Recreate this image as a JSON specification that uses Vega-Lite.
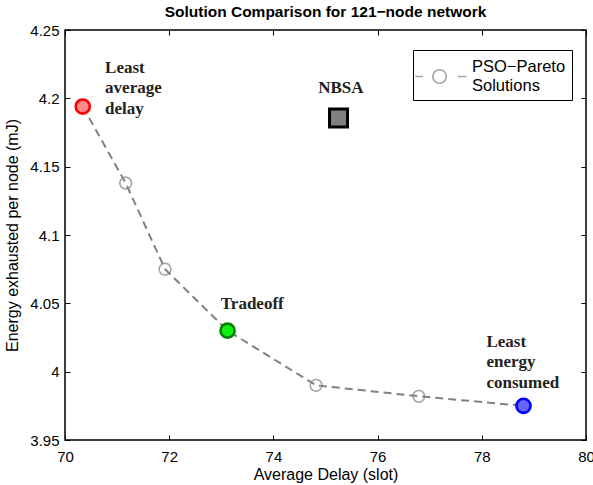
{
  "$schema": "https://vega.github.io/schema/vega-lite/v6.json",
  "width": 521,
  "height": 410,
  "autosize": {"type": "none"},
  "padding": {"left": 65, "top": 30, "right": 7, "bottom": 45},
  "background": "white",
  "title": {
    "text": "Solution Comparison for 121−node network",
    "font": "Liberation Sans",
    "fontSize": 15.5,
    "fontWeight": "bold",
    "color": "black",
    "anchor": "middle",
    "baseline": "bottom",
    "offset": 0,
    "dy": 12
  },
  "config": {
    "view": {"stroke": "black", "strokeWidth": 1.5},
    "axis": {
      "domain": false,
      "offset": -5,
      "tickColor": "black",
      "tickWidth": 1,
      "tickSize": 5,
      "grid": false,
      "labelFont": "Liberation Sans",
      "labelFontSize": 15,
      "labelColor": "black",
      "titleFont": "Liberation Sans",
      "titleFontSize": 16,
      "titleFontWeight": "normal",
      "titleColor": "black"
    }
  },
  "datasets": {
    "pareto": [
      {"delay": 70.34, "energy": 4.194, "kind": "least delay"},
      {"delay": 71.165, "energy": 4.138, "kind": "pso"},
      {"delay": 71.92, "energy": 4.075, "kind": "pso"},
      {"delay": 73.12, "energy": 4.03, "kind": "tradeoff"},
      {"delay": 74.82, "energy": 3.99, "kind": "pso"},
      {"delay": 76.79, "energy": 3.982, "kind": "pso"},
      {"delay": 78.8, "energy": 3.975, "kind": "least energy"}
    ],
    "nbsa": [
      {"delay": 75.25, "energy": 4.1856, "kind": "NBSA"}
    ],
    "notes": [
      {"delay": 70.77, "energy": 4.2222, "text": ["Least", "average", "delay"]},
      {"delay": 74.86, "energy": 4.2076, "text": ["NBSA"]},
      {"delay": 72.99, "energy": 4.0495, "text": ["Tradeoff"]},
      {"delay": 78.09, "energy": 4.0219, "text": ["Least", "energy", "consumed"]}
    ]
  },
  "layer": [
    {
      "data": {"name": "pareto"},
      "mark": {"type": "line", "color": "#808080", "strokeWidth": 2, "strokeDash": [8, 5]},
      "encoding": {
        "x": {
          "field": "delay", "type": "quantitative",
          "scale": {"domain": [70, 80], "nice": false, "zero": false},
          "axis": {"orient": "bottom", "values": [70, 72, 74, 76, 78, 80], "labelPadding": 9, "title": "Average Delay (slot)", "titlePadding": 2, "labelFlush": false}
        },
        "y": {
          "field": "energy", "type": "quantitative",
          "scale": {"domain": [3.95, 4.25], "nice": false, "zero": false},
          "axis": {"orient": "left", "values": [3.95, 4, 4.05, 4.1, 4.15, 4.2, 4.25], "format": "~g", "labelPadding": 6, "title": "Energy exhausted per node (mJ)", "titlePadding": 9, "labelFlush": false}
        }
      }
    },
    {
      "data": {"name": "pareto"},
      "transform": [{"filter": "datum.kind === 'pso'"}],
      "mark": {"type": "point", "shape": "circle", "filled": false, "stroke": "#808080", "strokeWidth": 1.6, "size": 135},
      "encoding": {
        "x": {"field": "delay", "type": "quantitative", "axis": null},
        "y": {"field": "energy", "type": "quantitative", "axis": null},
        "strokeDash": {
          "datum": "PSO−Pareto Solutions",
          "scale": {"range": [[1, 0]]},
          "legend": {
            "orient": "none",
            "legendX": 348,
            "legendY": 20,
            "title": null,
            "strokeColor": "black",
            "fillColor": "white",
            "padding": 6,
            "symbolType": "M-1.47,0.95H-0.7M2.8,0.95H3.63M1.63,0.95A0.67,0.67,0,1,1,0.29,0.95A0.67,0.67,0,1,1,1.63,0.95",
            "symbolSize": 400,
            "symbolStrokeColor": "#808080",
            "symbolStrokeWidth": 1.6,
            "symbolFillColor": "transparent",
            "labelFont": "Liberation Sans",
            "labelFontSize": 16.5,
            "labelColor": "black",
            "labelOffset": 31,
            "labelLimit": 0,
            "labelExpr": "['PSO−Pareto', 'Solutions']",
            "encode": {
              "symbols": {"update": {"stroke": {"value": "#808080"}, "fill": {"value": "transparent"}}}
            }
          }
        }
      }
    },
    {
      "data": {"name": "pareto"},
      "transform": [{"filter": "datum.kind !== 'pso'"}],
      "mark": {"type": "point", "shape": "circle", "filled": true, "strokeWidth": 2.6, "size": 200, "opacity": 1, "fillOpacity": 1},
      "encoding": {
        "x": {"field": "delay", "type": "quantitative", "axis": null},
        "y": {"field": "energy", "type": "quantitative", "axis": null},
        "fill": {
          "field": "kind", "type": "nominal",
          "scale": {"domain": ["least delay", "tradeoff", "least energy"], "range": ["#ff8a8a", "#11ee11", "#6464ff"]},
          "legend": null
        },
        "stroke": {
          "field": "kind", "type": "nominal",
          "scale": {"domain": ["least delay", "tradeoff", "least energy"], "range": ["#ff0000", "#007f00", "#0000ff"]},
          "legend": null
        }
      }
    },
    {
      "data": {"name": "nbsa"},
      "mark": {"type": "square", "size": 324, "fill": "#808080", "stroke": "black", "strokeWidth": 3, "opacity": 1},
      "encoding": {
        "x": {"field": "delay", "type": "quantitative", "axis": {"orient": "top", "values": [70, 72, 74, 76, 78, 80], "labels": false, "title": null}},
        "y": {"field": "energy", "type": "quantitative", "axis": {"orient": "right", "values": [3.95, 4, 4.05, 4.1, 4.15, 4.2, 4.25], "labels": false, "title": null}}
      }
    },
    {
      "data": {"name": "notes"},
      "mark": {"type": "text", "align": "left", "baseline": "middle", "font": "Liberation Serif", "fontSize": 17, "fontWeight": "bold", "color": "#222222", "lineHeight": 20.5},
      "encoding": {
        "x": {"field": "delay", "type": "quantitative", "axis": null},
        "y": {"field": "energy", "type": "quantitative", "axis": null},
        "text": {"field": "text"}
      }
    }
  ],
  "resolve": {
    "axis": {"x": "independent", "y": "independent"}
  }
}
